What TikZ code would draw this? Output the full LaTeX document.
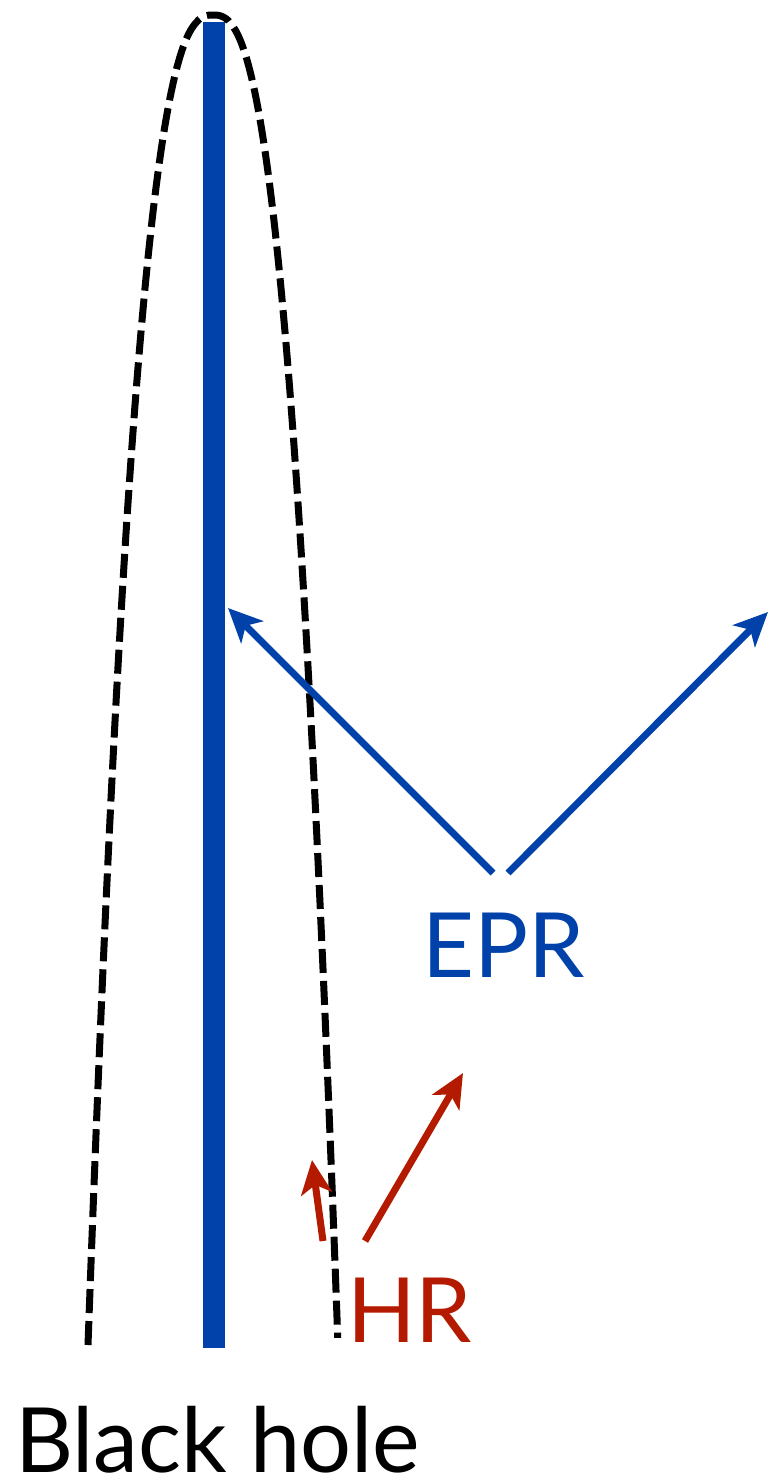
\documentclass[tikz,border=0pt]{standalone}
\usepackage{fontspec}
\setmainfont{Lato}
\usetikzlibrary{arrows.meta}
\definecolor{eprblue}{RGB}{0,65,170}
\definecolor{hrred}{RGB}{180,26,0}
\begin{document}
\begin{tikzpicture}[x=1pt,y=-1pt,
  horizon/.style={black, line width=7pt, dash pattern=on 24pt off 8pt},
  bhbar/.style={eprblue, line width=22pt},
  tipstyle/.style={-{Stealth[length=34pt,width=31pt,inset=9pt]}},
  eprarrow/.style={eprblue, line width=7pt, tipstyle},
  hrarrow/.style={hrred, line width=7pt, tipstyle},
  lbl/.style={inner sep=0pt, anchor=base west, font=\fontsize{90}{90}\selectfont}]
\useasboundingbox (0,0) rectangle (770,1482);

% horizon of the black hole
\draw[horizon] plot[domain=-1:1, samples=200]
  ({213+125*\x}, {15+1330*pow(abs(\x),2.6)});

% the black hole worldline
\coordinate (barTop) at (214,22);
\coordinate (barBot) at (214,1348);
\draw[bhbar] (barTop) -- (barBot);

% labels
\node[lbl, text=eprblue] (epr) at (422,977) {EPR};
\node[lbl, text=hrred] (hr) at (347,1342) {HR};
\node[lbl] (bh) at (15,1472) {Black hole};

% EPR pair
\coordinate (eprL) at (493,873);
\coordinate (eprR) at (508,873);
\coordinate (eprLtip) at (228,608);
\coordinate (eprRtip) at (768,612);
\draw[eprarrow] (eprL) -- (eprLtip);
\draw[eprarrow] (eprR) -- (eprRtip);

% Hawking radiation pair
\coordinate (hrIn) at (323,1241);
\coordinate (hrInTip) at (312,1160);
\coordinate (hrOut) at (365,1241);
\coordinate (hrOutTip) at (463,1073);
\draw[hrarrow] (hrIn) -- (hrInTip);
\draw[hrarrow] (hrOut) -- (hrOutTip);
\end{tikzpicture}
\end{document}
